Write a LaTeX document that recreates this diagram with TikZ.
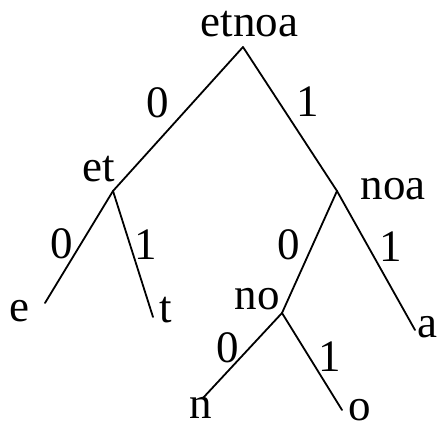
\documentclass[tikz,border=0pt]{standalone}
\usepackage{fontspec}
\setmainfont{Liberation Serif}
\begin{document}
\begin{tikzpicture}[x=1pt,y=-1pt,
  edge/.style={line width=1.8pt,line cap=round},
  lbl/.style={anchor=base,inner sep=0pt,text depth=0pt,font=\fontsize{45}{50}\selectfont}]
\useasboundingbox (0,0) rectangle (437,427);
% junctions and leaf ends
\coordinate (root) at (243,47);
\coordinate (et) at (113,191);
\coordinate (noa) at (337,191);
\coordinate (eend) at (45,303);
\coordinate (tend) at (153,317);
\coordinate (no) at (282,313);
\coordinate (aend) at (415,330);
\coordinate (nend) at (203,398);
\coordinate (oend) at (342,410);
% connectors
\draw[edge] (root) -- (et);
\draw[edge] (root) -- (noa);
\draw[edge] (et) -- (eend);
\draw[edge] (et) -- (tend);
\draw[edge] (noa) -- (no);
\draw[edge] (noa) -- (aend);
\draw[edge] (no) -- (nend);
\draw[edge] (no) -- (oend);
% node texts
\node[lbl] (tetnoa) at (249.5,37) {etnoa};
\node[lbl] (tet) at (99,182) {et};
\node[lbl] (tnoa) at (393,200) {noa};
\node[lbl] (te) at (19,322) {e};
\node[lbl] (tt) at (166,323) {t};
\node[lbl] (tno) at (257,310) {no};
\node[lbl] (ta) at (427,338) {a};
\node[lbl] (tn) at (201,419) {n};
\node[lbl] (to) at (360,421) {o};
% edge labels
\node[lbl] (l1) at (158,118) {0};
\node[lbl] (l2) at (308,117) {1};
\node[lbl] (l3) at (62,259) {0};
\node[lbl] (l4) at (146,260) {1};
\node[lbl] (l5) at (289,260) {0};
\node[lbl] (l6) at (391,262) {1};
\node[lbl] (l7) at (228,363) {0};
\node[lbl] (l8) at (330,372) {1};
\end{tikzpicture}
\end{document}
